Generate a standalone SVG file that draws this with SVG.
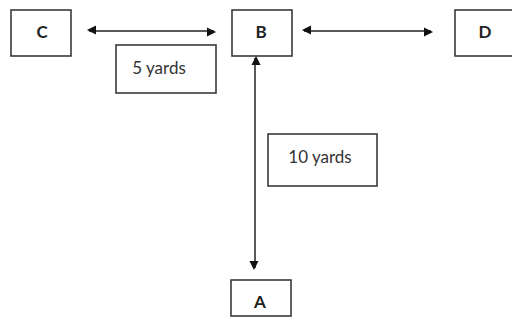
<svg xmlns="http://www.w3.org/2000/svg" width="512" height="320" viewBox="0 0 512 320">
<style>
.box{fill:#fff;stroke:#3a3a3a;stroke-width:1.6}
.lbl{font-family:Lato,"Open Sans",sans-serif;font-weight:bold;font-size:17px;fill:#222;text-anchor:middle}
.txt{font-family:Lato,"Open Sans",sans-serif;font-size:17px;fill:#333;text-anchor:middle}
.con{stroke:#222;stroke-width:1.5;fill:none}
</style>
<defs>
<marker id="ah" viewBox="0 0 10 10" refX="10" refY="5" markerWidth="7" markerHeight="7" markerUnits="userSpaceOnUse" orient="auto-start-reverse" style="overflow:visible">
<path d="M0,0 L10,5 L0,10 Z" fill="#111" transform="scale(1.3)"/>
</marker>
</defs>
<rect width="512" height="320" fill="#fff"/>
<g id="connectors">
<line class="con" x1="89" y1="31" x2="214" y2="31" marker-start="url(#ah)" marker-end="url(#ah)"/>
<line class="con" x1="304" y1="31" x2="431" y2="31" marker-start="url(#ah)" marker-end="url(#ah)"/>
<line class="con" x1="255" y1="58" x2="255" y2="268" marker-start="url(#ah)" marker-end="url(#ah)"/>
</g>
<g id="C"><rect class="box" x="11" y="10" width="60" height="46"/><text class="lbl" x="42" y="38">C</text></g>
<g id="B"><rect class="box" x="232" y="10" width="60" height="46"/><text class="lbl" x="261" y="38">B</text></g>
<g id="D"><rect class="box" x="455" y="10" width="60" height="46"/><text class="lbl" x="485" y="38">D</text></g>
<g id="A"><rect class="box" x="231" y="280" width="60" height="36"/><text class="lbl" x="260" y="308">A</text></g>
<g id="label5"><rect class="box" x="116" y="45" width="100" height="48"/><text class="txt" x="159" y="74">5 yards</text></g>
<g id="label10"><rect class="box" x="268" y="134" width="109" height="52"/><text class="txt" x="320" y="163">10 yards</text></g>
</svg>
